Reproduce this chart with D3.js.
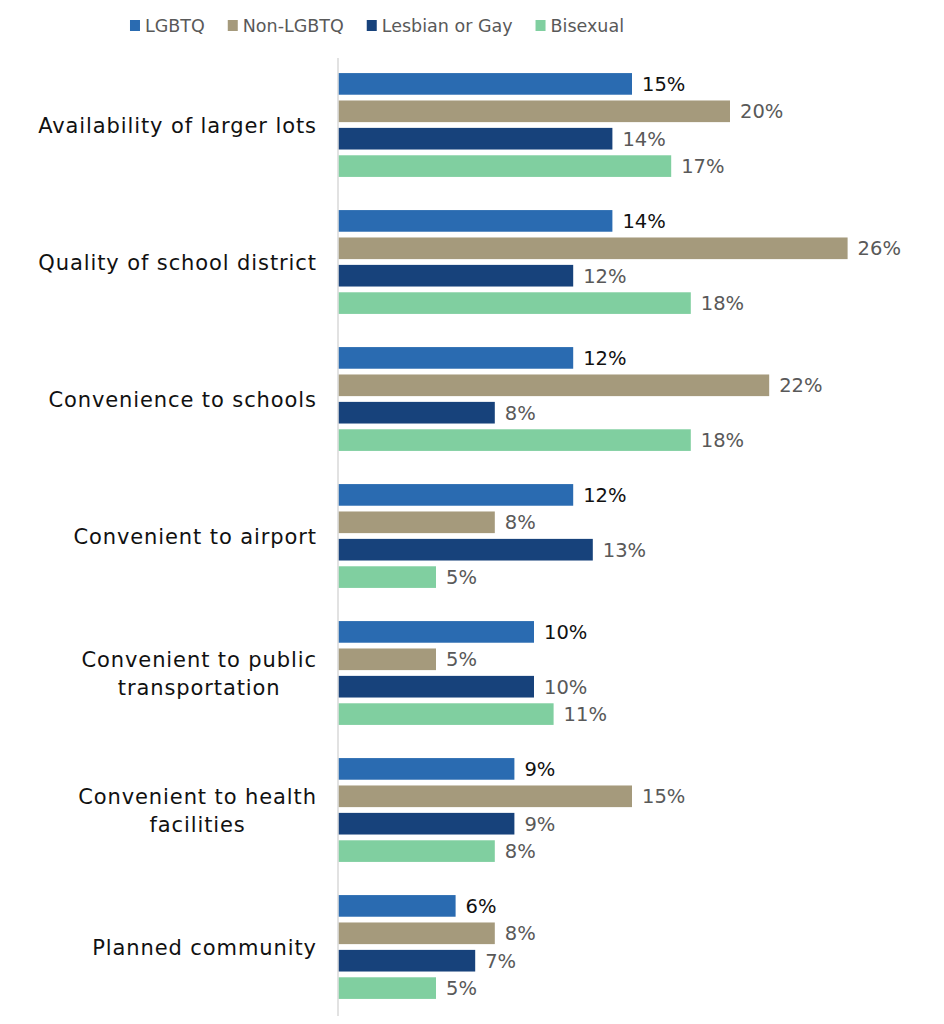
<!DOCTYPE html>
<html><head><meta charset="utf-8">
<script src="https://cdn.jsdelivr.net/npm/d3@7"></script>
<style>body{margin:0;background:#fff}svg{display:block}</style>
</head><body>
<svg id="chart" width="944" height="1024"></svg>
<script>
const categories = [
  "Availability of larger lots",
  "Quality of school district",
  "Convenience to schools",
  "Convenient to airport",
  "Convenient to public|transportation",
  "Convenient to health|facilities",
  "Planned community"
];
const seriesNames = ["LGBTQ", "Non-LGBTQ", "Lesbian or Gay", "Bisexual"];
const lgbtq       = [15, 14, 12, 12, 10, 9, 6];
const nonLgbtq    = [20, 26, 22, 8, 5, 15, 8];
const lesbianGay  = [14, 12, 8, 13, 10, 9, 7];
const bisexual    = [17, 18, 18, 5, 11, 8, 5];
const colors = ["#2a6bb1", "#a59a7c", "#17427b", "#80cfa0"];
const labelColors = ["#111111", "#595959", "#595959", "#595959"];

const seriesValues = [lgbtq, nonLgbtq, lesbianGay, bisexual];
const font = "'DejaVu Sans', sans-serif";
const svg = d3.select("#chart");

const x = d3.scaleLinear().domain([0, 30]).range([338, 926]);
const y = d3.scaleBand().domain(categories).range([56.5, 1015.5]).paddingInner(0).paddingOuter(0);
const yInner = d3.scaleBand().domain(seriesNames).range([0, y.bandwidth()]).paddingInner(0.21).paddingOuter(0.605);

// axis line
svg.append("line").attr("x1", x(0)).attr("x2", x(0)).attr("y1", 58).attr("y2", 1016)
  .attr("stroke", "#d9d9d9").attr("stroke-width", 1.5);

const groups = svg.selectAll("g.grp").data(categories).join("g")
  .attr("class", "grp").attr("transform", d => `translate(0,${y(d)})`);

seriesNames.forEach((s, si) => {
  groups.append("rect")
    .attr("x", x(0) + 0.75)
    .attr("y", yInner(s))
    .attr("width", (d, i) => x(seriesValues[si][i]) - x(0) - 0.75)
    .attr("height", yInner.bandwidth())
    .attr("fill", colors[si]);
  groups.append("text")
    .attr("x", (d, i) => x(seriesValues[si][i]) + 10)
    .attr("y", yInner(s) + yInner.bandwidth() / 2)
    .attr("dy", "0.36em")
    .attr("font-family", font).attr("font-size", 19.5)
    .attr("fill", labelColors[si])
    .text((d, i) => seriesValues[si][i] + "%");
});

// category labels
groups.each(function(d) {
  const g = d3.select(this);
  const lines = d.split("|");
  const lh = 28;
  const cy = y.bandwidth() / 2;
  const t = g.append("text").attr("font-family", font).attr("font-size", 21)
    .attr("letter-spacing", 0.9).attr("fill", "#111");
  const spans = lines.map((ln, k) => t.append("tspan").attr("y", cy + (k - (lines.length - 1) / 2) * lh).attr("dy", "0.36em").text(ln));
  if (lines.length === 1) {
    t.attr("text-anchor", "end");
    spans[0].attr("x", 316.9);
  } else {
    const widths = spans.map(sp => sp.node().getComputedTextLength());
    const maxW = d3.max(widths);
    t.attr("text-anchor", "middle");
    spans.forEach(sp => sp.attr("x", 316.9 - maxW / 2));
  }
});

// legend
const legend = svg.append("g");
let lx = 0;
seriesNames.forEach((s, i) => {
  const item = legend.append("g").attr("transform", `translate(${lx},0)`);
  item.append("rect").attr("x", 0).attr("y", 20).attr("width", 10).attr("height", 11).attr("fill", colors[i]);
  const t = item.append("text").attr("x", 15).attr("y", 26).attr("dy", "0.36em")
    .attr("font-family", font).attr("font-size", 17.5).attr("fill", "#595959").text(s);
  lx += 15 + t.node().getComputedTextLength() + 23;
});
const totalW = lx - 23;
legend.attr("transform", `translate(${377 - totalW / 2},0)`);
</script>
</body></html>
